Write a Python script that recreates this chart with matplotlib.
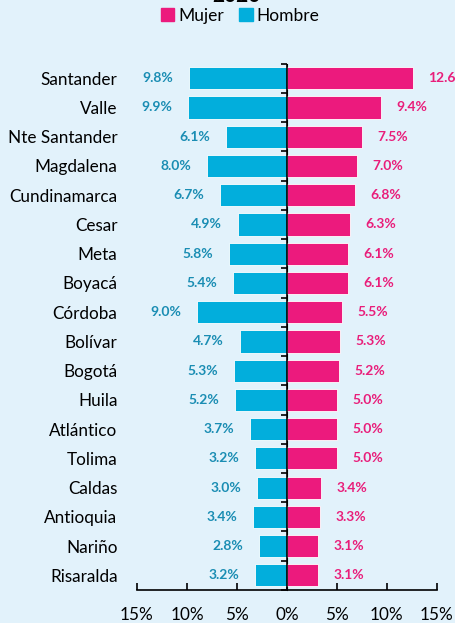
import matplotlib
matplotlib.use("Agg")
import matplotlib.pyplot as plt
from matplotlib.patches import Patch
import numpy as np

plt.rcParams['font.family'] = ['Lato', 'DejaVu Sans']

departamentos = ["Santander", "Valle", "Nte Santander", "Magdalena", "Cundinamarca",
                 "Cesar", "Meta", "Boyacá", "Córdoba", "Bolívar", "Bogotá", "Huila",
                 "Atlántico", "Tolima", "Caldas", "Antioquia", "Nariño", "Risaralda"]
mujer = [12.6, 9.4, 7.5, 7.0, 6.8, 6.3, 6.1, 6.1, 5.5, 5.3, 5.2, 5.0, 5.0, 5.0, 3.4, 3.3, 3.1, 3.1]
hombre = [9.8, 9.9, 6.1, 8.0, 6.7, 4.9, 5.8, 5.4, 9.0, 4.7, 5.3, 5.2, 3.7, 3.2, 3.0, 3.4, 2.8, 3.2]
xticks = [-15, -10, -5, 0, 5, 10, 15]
titulo = "2020"

c_muj = "#EC1A7D"
c_hom = "#02AEDC"
c_muj_txt = "#E91E7A"
c_hom_txt = "#1A8DB3"
bg = "#E2F2FB"

fig = plt.figure(figsize=(4.55, 6.23), dpi=100, facecolor=bg)
ax = fig.add_axes([0.301, 0.053, 0.659, 0.845])
ax.set_facecolor(bg)

y = np.arange(len(departamentos))
ax.barh(y, mujer, height=0.76, color=c_muj, edgecolor="white", linewidth=0.6, zorder=2)
ax.barh(y, [-v for v in hombre], height=0.76, color=c_hom, edgecolor="white", linewidth=0.6, zorder=2)

for yi, v in zip(y, mujer):
    ax.annotate(f"{v:.1f}%", (v, yi), xytext=(11, 0), textcoords="offset points",
                ha="left", va="center", fontsize=10, fontweight="bold", color=c_muj_txt,
                annotation_clip=False)
for yi, v in zip(y, hombre):
    ax.annotate(f"{v:.1f}%", (-v, yi), xytext=(-11.5, 0), textcoords="offset points",
                ha="right", va="center", fontsize=10, fontweight="bold", color=c_hom_txt)

ax.set_xlim(-15, 15)
ax.set_ylim(len(departamentos) - 0.5, -0.5)
ax.set_yticks(y)
ax.set_yticklabels(departamentos, fontsize=12.3)
ax.tick_params(axis="y", length=0, pad=14)

ax.set_xticks(xticks)
ax.set_xticklabels([f"{abs(t)}%" for t in xticks], fontsize=12.3)
ax.tick_params(axis="x", direction="in", length=5, width=1.2, pad=12)

for s in ["top", "right", "left"]:
    ax.spines[s].set_visible(False)
ax.spines["bottom"].set_linewidth(1.2)

ax.axvline(0, color="black", linewidth=1.2, zorder=3)
bounds = np.arange(-0.5, len(departamentos), 1.0)
sec = ax.secondary_yaxis(0.5)
sec.set_yticks(bounds)
sec.set_yticklabels([])
sec.tick_params(direction="in", length=4, width=1.2)
sec.spines["left"].set_visible(False)

fig.text(0.52, 1.006, titulo, ha="center", va="center", fontsize=15, fontweight="bold")
handles = [Patch(color=c_muj), Patch(color=c_hom)]
fig.legend(handles, ["Mujer", "Hombre"], loc="center", bbox_to_anchor=(0.528, 0.975),
           ncol=2, frameon=False, fontsize=12.5, handlelength=0.75, handleheight=0.75,
           handletextpad=0.25, columnspacing=0.9, borderaxespad=0)

fig.savefig("out.png", dpi=100, facecolor=bg)
